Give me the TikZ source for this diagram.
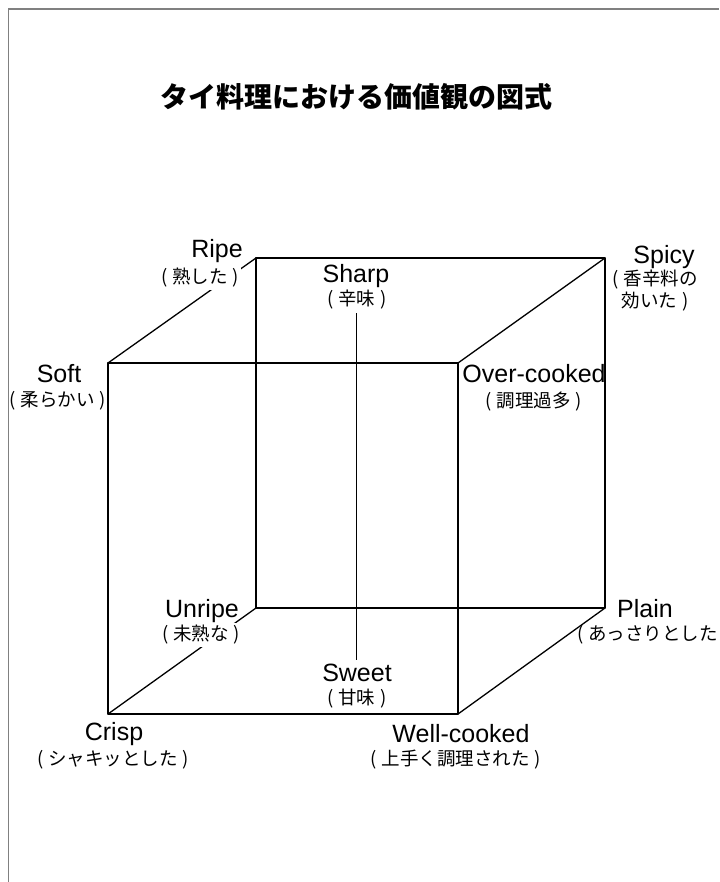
\documentclass[tikz,border=0pt]{standalone}
\usepackage{fontspec}
\setmainfont{Liberation Sans}
\newfontfamily\jpfont{Noto Sans CJK JP}[WordSpace=1.2]
\begin{document}
\begin{tikzpicture}[x=1pt,y=-1pt,
  edge/.style={line width=1.3pt, line cap=round, line join=round},
  axisline/.style={line width=1pt},
  framel/.style={line width=1.7pt, draw=black!50},
  en/.style={font=\fontsize{25}{28}\selectfont, inner sep=0pt, anchor=base},
  ja/.style={font=\jpfont\fontsize{18.5}{22}\selectfont, inner sep=0.5pt, align=center},
  cover/.style={fill=white, inner sep=2pt},
  titlestyle/.style={font=\jpfont\bfseries\fontsize{28}{32}\selectfont, inner sep=0pt}]
\useasboundingbox (0,0) rectangle (719,882);
% cube corners
\coordinate (cSoft) at (108,363);
\coordinate (cOver) at (458,363);
\coordinate (cCrisp) at (108,714);
\coordinate (cWell) at (458,714);
\coordinate (cRipe) at (256,258);
\coordinate (cSpicy) at (605,258);
\coordinate (cUnripe) at (256,608);
\coordinate (cPlain) at (605,608);
\coordinate (axT) at (356,313);
\coordinate (axB) at (356,660);
% edges
\draw[edge] (cSoft) -- (cOver) -- (cWell) -- (cCrisp) -- cycle;
\draw[edge] (cRipe) -- (cSpicy) -- (cPlain) -- (cUnripe) -- cycle;
\draw[edge] (cSoft) -- (cRipe);
\draw[edge] (cOver) -- (cSpicy);
\draw[edge] (cWell) -- (cPlain);
\draw[edge] (cCrisp) -- (cUnripe);
\draw[axisline] (axT) -- (axB);
% title
\node[titlestyle] (title) at (356.5,97) {タイ料理における価値観の図式};
% labels
\node[en] (ripe) at (217,258) {Ripe};
\node[ja,cover] (ripeJa) at (200,278) {( 熟した )};
\node[en] (sharp) at (356,282) {Sharp};
\node[ja] (sharpJa) at (357,300) {( 辛味 )};
\node[en] (spicy) at (664,263) {Spicy};
\node[ja] (spicyJa) at (655,291) {( 香辛料の\\効いた )};
\node[en] (soft) at (59,382) {Soft};
\node[ja] (softJa) at (58,401) {( 柔らかい )};
\node[en] (over) at (534,382) {Over-cooked};
\node[ja] (overJa) at (534,402) {( 調理過多 )};
\node[en] (unripe) at (202,617) {Unripe};
\node[ja,cover] (unripeJa) at (201,635) {( 未熟な )};
\node[en] (sweet) at (357,681) {Sweet};
\node[ja] (sweetJa) at (357,699) {( 甘味 )};
\node[en] (plain) at (645,617) {Plain};
\node[ja] (plainJa) at (653,635) {( あっさりとした )};
\node[en] (crisp) at (114,740) {Crisp};
\node[ja] (crispJa) at (113,760) {( シャキッとした )};
\node[en] (well) at (461,742) {Well-cooked};
\node[ja] (wellJa) at (456,760) {( 上手く調理された )};
% frame
\coordinate (frA) at (8.5,882);
\coordinate (frB) at (8.5,9);
\coordinate (frC) at (719,9);
\draw[framel] (frA) -- (frB) -- (frC);
\end{tikzpicture}
\end{document}
